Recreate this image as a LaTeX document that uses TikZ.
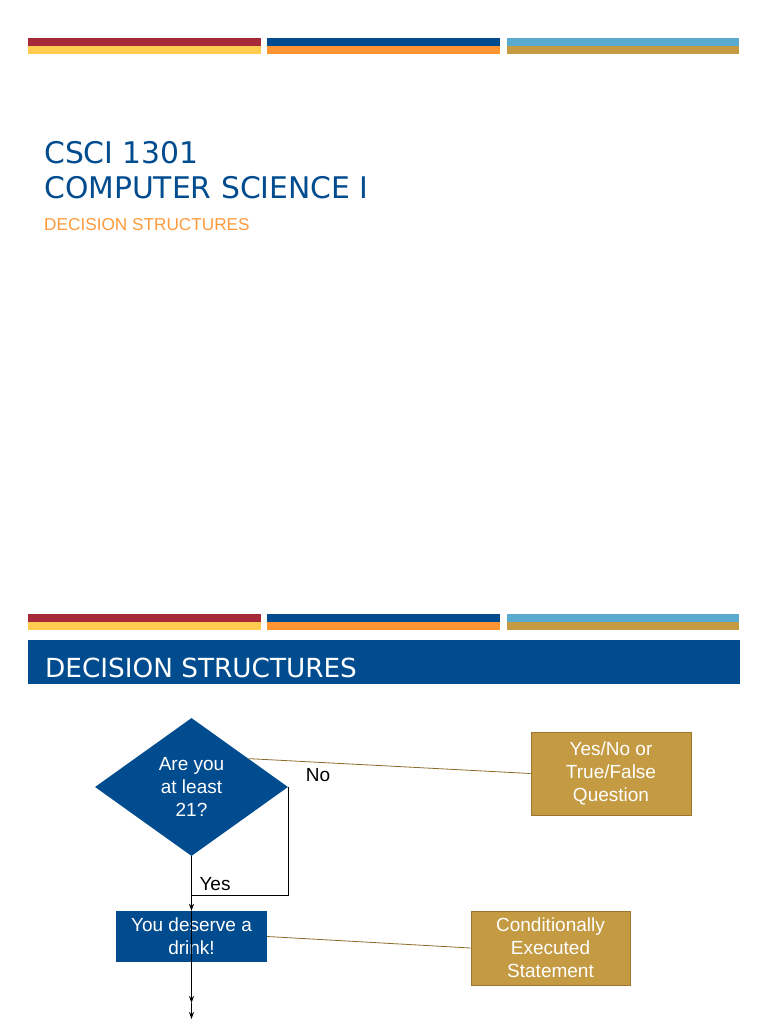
\documentclass[tikz,border=0pt]{standalone}
\usepackage{fontspec}
\setmainfont{Liberation Sans}
\newfontfamily\dejavu{DejaVu Sans}
\usetikzlibrary{shapes.geometric,arrows.meta,calc}
\definecolor{barred}{HTML}{A6293A}
\definecolor{baryellow}{HTML}{FFCC4F}
\definecolor{navy}{HTML}{004C8F}
\definecolor{barorange}{HTML}{FF9430}
\definecolor{skyblue}{HTML}{5AAAD0}
\definecolor{gold}{HTML}{C49A43}
\definecolor{golddark}{HTML}{9C7630}
\definecolor{leadercol}{HTML}{8C6A2A}
\definecolor{subtitle}{HTML}{FF9A3C}
\begin{document}
\begin{tikzpicture}[x=1pt,y=-1pt,
  flowtext/.style={font=\fontsize{19}{23}\selectfont, text=white, align=center},
  bluebox/.style={fill=navy, inner sep=0, flowtext},
  goldbox/.style={fill=gold, draw=golddark, line width=0.8pt, inner sep=0, flowtext},
  lbl/.style={font=\fontsize{19}{23}\selectfont, text=black, inner sep=0},
  flowline/.style={draw=black, line width=1pt},
  flowarrow/.style={flowline, -{Stealth[length=7pt,width=5pt]}},
  leaderline/.style={draw=leadercol, line width=0.8pt}]
\useasboundingbox (0,0) rectangle (768,1024);
\fill[white] (0,0) rectangle (768,1024);

% decorative bars
\foreach \yy in {38,614}{
  \fill[barred]     (28,\yy)   rectangle (261,{\yy+8});
  \fill[baryellow]  (28,{\yy+8}) rectangle (261,{\yy+16});
  \fill[navy]       (267,\yy)  rectangle (500,{\yy+8});
  \fill[barorange]  (267,{\yy+8}) rectangle (500,{\yy+16});
  \fill[skyblue]    (507,\yy)  rectangle (739,{\yy+8});
  \fill[gold]       (507,{\yy+8}) rectangle (739,{\yy+16});
}

% title slide
\node[anchor=base west, inner sep=0, text=navy, font=\dejavu\fontsize{29.8}{35}\selectfont] (t1) at (44,164) {CSCI 1301};
\node[anchor=base west, inner sep=0, text=navy, font=\dejavu\fontsize{29.8}{35}\selectfont] (t2) at (44,199) {COMPUTER SCIENCE I};
\node[anchor=base west, inner sep=0, text=subtitle, font=\fontsize{17.2}{20}\selectfont] (t3) at (44,230) {DECISION STRUCTURES};

% second slide header band
\node[fill=navy, minimum width=712, minimum height=44, anchor=north west, inner sep=0] (band) at (28,640) {};
\node[anchor=base west, inner sep=0, text=white, font=\dejavu\fontsize{26.3}{30}\selectfont] (bandtitle) at (45,677) {DECISION STRUCTURES};

% flowchart
\node[diamond, fill=navy, aspect=1.4, minimum width=193, minimum height=138, inner sep=0, flowtext] (q) at (191.5,787) {Are you\\at least\\21?};
\node[bluebox, minimum width=151, minimum height=51] (act) at (191.5,936.5) {You deserve a\\drink!};
\node[goldbox, minimum width=160, minimum height=83] (c1) at (611,773.5) {Yes/No or\\True/False\\Question};
\node[goldbox, minimum width=159, minimum height=74] (c2) at (550.5,948) {Conditionally\\Executed\\Statement};

\node[lbl] (no) at (318,775) {No};
\node[lbl] (yes) at (215,884) {Yes};

\coordinate (join) at (191.5,895);
\coordinate (end1) at (191.5,1003);
\coordinate (end2) at (191.5,1019);

\draw[flowarrow] (q.south) -- (act.north);
\draw[flowline] (q.east) |- (join);
\draw[flowarrow] (act.north) -- (end1);
\draw[flowarrow] (end1) -- (end2);

\draw[leaderline] ($(q.north)!0.59!(q.east)$) -- (c1.west);
\draw[leaderline] (act.east) -- (c2.west);
\end{tikzpicture}
\end{document}
